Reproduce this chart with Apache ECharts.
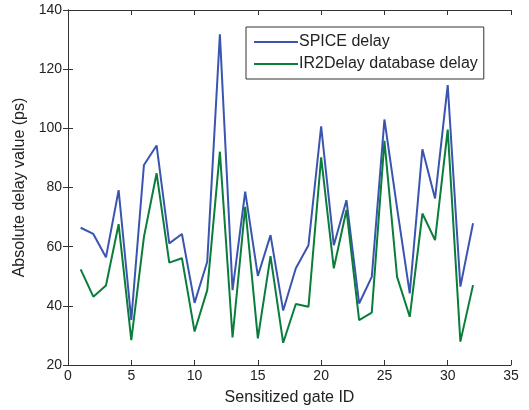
<!DOCTYPE html>
<html>
<head>
<meta charset="utf-8">
<script src="https://cdn.jsdelivr.net/npm/echarts@6/dist/echarts.min.js"></script>
<style>html,body{margin:0;padding:0;background:#fff}#c{width:529px;height:410px}</style>
</head>
<body>
<div id="c"></div>
<script>
const gateIds = [1,2,3,4,5,6,7,8,9,10,11,12,13,14,15,16,17,18,19,20,21,22,23,24,25,26,27,28,29,30,31,32];
const spiceDelay = [66.4,64.3,56.4,79.1,35.2,87.6,94.2,61.1,64.3,41.0,54.9,131.8,45.3,78.6,50.1,63.9,38.4,52.7,60.5,100.7,60.5,75.7,40.8,49.8,103.0,73.0,44.2,92.9,76.3,114.6,46.5,67.9];
const ir2Delay = [52.3,43.1,46.9,67.6,28.4,63.3,84.8,54.6,56.1,31.3,45.3,92.1,29.3,73.5,29.0,56.8,27.5,40.6,39.7,90.2,52.7,72.4,35.2,37.7,95.8,49.8,36.3,71.2,62.2,99.6,27.9,47.0];
const xTicks = {min:0, max:35, interval:5};
const yTicks = {min:20, max:140, interval:20};

const chart = echarts.init(document.getElementById('c'), null, {renderer:'canvas'});
const font = 'Liberation Sans, Arial, sans-serif';
const axisCommon = {
  axisLine:{show:true, lineStyle:{color:'#333', width:1}},
  axisTick:{show:true, inside:true, length:5, lineStyle:{color:'#333'}},
  splitLine:{show:false}
};
chart.setOption({
  animation:false,
  backgroundColor:'#fff',
  grid:{left:68, right:18, top:10, bottom:45, containLabel:false, outerBoundsMode:'none'},
  legend:{
    orient:'vertical', left:246, top:27,
    data:[{name:'SPICE delay', icon:'rect'},{name:'IR2Delay database delay', icon:'rect'}],
    backgroundColor:'#fff', borderColor:'#333', borderWidth:1,
    padding:[6,6,6,8], itemGap:4, itemWidth:44, itemHeight:2,
    textStyle:{fontFamily:font, fontSize:16, color:'#222', padding:[0,0,0,-4], lineHeight:18}
  },
  xAxis:[
    Object.assign({type:'value', min:xTicks.min, max:xTicks.max, interval:xTicks.interval, position:'bottom',
      axisLabel:{fontFamily:font, fontSize:14, color:'#222', margin:4},
      name:'Sensitized gate ID', nameLocation:'middle', nameGap:25,
      nameTextStyle:{fontFamily:font, fontSize:16, color:'#222'}}, axisCommon),
    Object.assign({type:'value', min:xTicks.min, max:xTicks.max, interval:xTicks.interval, position:'top',
      axisLabel:{show:false}}, axisCommon)
  ],
  yAxis:[
    Object.assign({type:'value', min:yTicks.min, max:yTicks.max, interval:yTicks.interval, position:'left',
      axisLabel:{fontFamily:font, fontSize:14, color:'#222', margin:6},
      name:'Absolute delay value (ps)', nameLocation:'middle', nameGap:38, nameRotate:90,
      nameTextStyle:{fontFamily:font, fontSize:16, color:'#222'}}, axisCommon),
    Object.assign({type:'value', min:yTicks.min, max:yTicks.max, interval:yTicks.interval, position:'right',
      axisLabel:{show:false}}, axisCommon)
  ],
  series:[
    {name:'SPICE delay', type:'line', xAxisIndex:0, yAxisIndex:0, symbol:'none',
      data:gateIds.map((g,i)=>[g, spiceDelay[i]]),
      lineStyle:{color:'#3a55b0', width:2}, itemStyle:{color:'#3a55b0'}, z:2},
    {name:'IR2Delay database delay', type:'line', xAxisIndex:0, yAxisIndex:0, symbol:'none',
      data:gateIds.map((g,i)=>[g, ir2Delay[i]]),
      lineStyle:{color:'#0a7d3a', width:2}, itemStyle:{color:'#0a7d3a'}, z:3}
  ]
});
</script>
</body>
</html>
